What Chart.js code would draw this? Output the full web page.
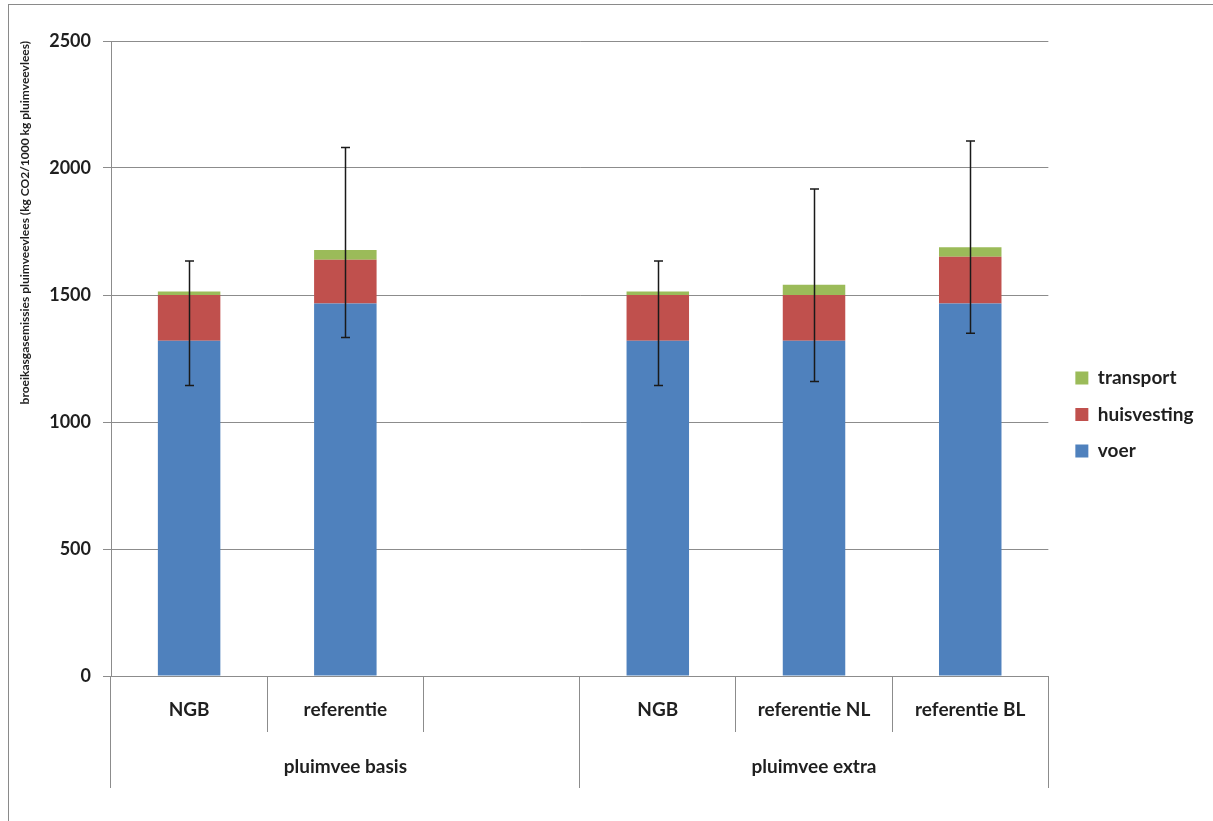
<!DOCTYPE html>
<html>
<head>
<meta charset="utf-8">
<script src="https://cdn.jsdelivr.net/npm/chart.js@4.4.1/dist/chart.umd.min.js"></script>
<style>
  html, body { margin: 0; padding: 0; background: #ffffff; }
  #wrap { position: relative; width: 1213px; height: 821px; }
  #frame { position: absolute; left: 8px; top: 4px; right: -2px; bottom: -2px;
           border-left: 1px solid #8a8a8a; border-top: 1px solid #8a8a8a; pointer-events: none; }
  canvas { position: absolute; left: 0; top: 0; }
</style>
</head>
<body>
<div id="wrap">
  <canvas id="chart" width="1213" height="821"></canvas>
  <div id="frame"></div>
</div>
<script>
// Category slots (the empty third slot separates the two groups)
const categories = ['NGB', 'referentie', '', 'NGB', 'referentie NL', 'referentie BL'];
const groupLabels = ['', 'pluimvee basis', '', '', 'pluimvee extra', ''];

// Emission components, kg CO2 per 1000 kg poultry meat
const voer        = [1320, 1467, null, 1320, 1320, 1467];
const huisvesting = [180,  172,  null, 180,  180,  184];
const transport   = [14,   38,   null, 14,   40,   37];

// Uncertainty range around each stacked total
const errorLow  = [1144, 1333, null, 1144, 1159, 1349];
const errorHigh = [1634, 2081, null, 1634, 1917, 2106];

const yTicks = [0, 500, 1000, 1500, 2000, 2500];

const GRID = '#8c8c8c';
const TEXT = '#1f1f1f';
const FONT = 'Lato, "Open Sans", sans-serif';

// Draws whisker lines with end caps at the error range of each bar
const errorBars = {
  id: 'errorBars',
  afterDatasetsDraw(chart) {
    const { ctx, scales: { x, y } } = chart;
    ctx.save();
    ctx.strokeStyle = '#1a1a1a';
    ctx.lineWidth = 1.5;
    errorLow.forEach((lo, i) => {
      const hi = errorHigh[i];
      if (lo == null || hi == null) return;
      const px = Math.round(x.getPixelForValue(i)) + 0.5;
      const yTop = y.getPixelForValue(hi);
      const yBot = y.getPixelForValue(lo);
      const cap = 4.5;
      ctx.beginPath();
      ctx.moveTo(px, yTop); ctx.lineTo(px, yBot);
      ctx.moveTo(px - cap, yTop); ctx.lineTo(px + cap, yTop);
      ctx.moveTo(px - cap, yBot); ctx.lineTo(px + cap, yBot);
      ctx.stroke();
    });
    ctx.restore();
  }
};

new Chart(document.getElementById('chart'), {
  type: 'bar',
  data: {
    labels: categories,
    datasets: [
      { label: 'voer', data: voer, backgroundColor: '#4F81BD' },
      { label: 'huisvesting', data: huisvesting, backgroundColor: '#C0504D' },
      { label: 'transport', data: transport, backgroundColor: '#9BBB59' }
    ]
  },
  options: {
    responsive: false,
    animation: false,
    devicePixelRatio: 1,
    layout: { padding: { top: 41, left: 10, right: 9.5, bottom: 33 } },
    datasets: { bar: { categoryPercentage: 1, barPercentage: 0.4 } },
    plugins: {
      tooltip: { enabled: false },
      legend: {
        position: 'right',
        reverse: true,
        maxWidth: 150,
        labels: {
          boxWidth: 13,
          boxHeight: 13,
          padding: 17.5,
          color: TEXT,
          font: { family: FONT, size: 19, weight: 'bold' }
        }
      }
    },
    scales: {
      x: {
        stacked: true,
        offset: true,
        grid: { display: true, offset: true, drawOnChartArea: false, drawTicks: true,
                tickLength: 56, tickColor: GRID, tickWidth: 1 },
        border: { display: true, color: GRID, width: 1 },
        ticks: { autoSkip: false, maxRotation: 0, minRotation: 0, padding: -34,
                 color: TEXT, font: { family: FONT, size: 19, weight: 'bold' } },
        afterFit(scale) { scale.height = 56; }
      },
      x2: {
        type: 'category',
        labels: groupLabels,
        position: 'bottom',
        offset: true,
        grid: {
          display: true, offset: true, drawOnChartArea: false, drawTicks: true,
          tickLength: 56, tickWidth: 1,
          tickColor: (c) => (c.type !== 'tick' || c.index === 0 || c.index === 3) ? GRID : 'rgba(0,0,0,0)'
        },
        border: { display: false },
        ticks: { autoSkip: false, maxRotation: 0, minRotation: 0, padding: -33,
                 color: TEXT, font: { family: FONT, size: 19, weight: 'bold' } },
        afterFit(scale) { scale.height = 56; }
      },
      y: {
        stacked: true,
        min: 0,
        max: 2500,
        afterBuildTicks(scale) { scale.ticks = yTicks.map(v => ({ value: v })); },
        grid: { color: GRID, lineWidth: 1, drawTicks: true, tickLength: 8, tickColor: GRID },
        border: { display: true, color: GRID, width: 1 },
        ticks: { padding: 12, color: TEXT, font: { family: FONT, size: 18, weight: 'bold' },
                 callback: (v) => String(v) },
        title: {
          display: true,
          align: 'end',
          text: 'broeikasgasemissies pluimveevlees (kg CO2/1000 kg pluimveevlees)',
          color: TEXT,
          padding: { top: 8, bottom: 4 },
          font: { family: FONT, size: 12, weight: 'bold' }
        },
        afterFit(scale) { scale.width = 101; }
      },
      yGap: {
        position: 'right',
        display: true,
        grid: { display: false, drawTicks: false },
        border: { display: false },
        ticks: { display: false },
        afterFit(scale) { scale.width = 9.5; }
      }
    }
  },
  plugins: [errorBars]
});
</script>
</body>
</html>
